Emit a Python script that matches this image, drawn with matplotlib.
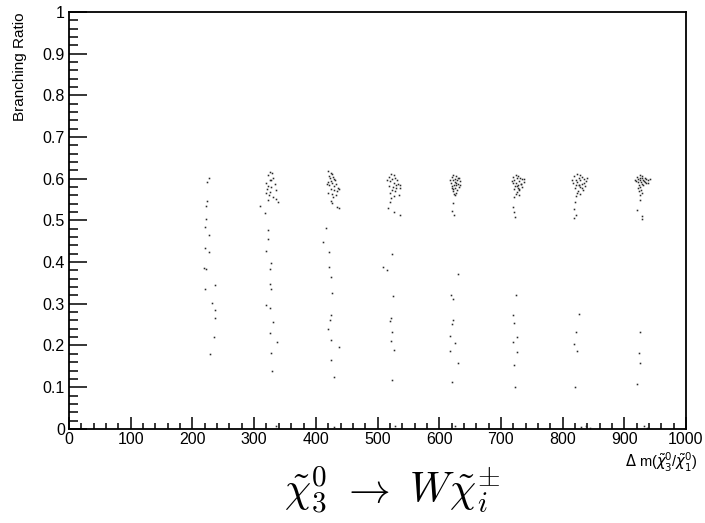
import matplotlib
matplotlib.use("Agg")
import matplotlib.pyplot as plt
from matplotlib.ticker import MultipleLocator, FuncFormatter

plt.rcParams["font.family"] = ["Liberation Sans", "DejaVu Sans"]

# -------------------------------------------------
# Data, one column per mass splitting
# -------------------------------------------------

x_225 = [226, 223, 223, 222, 222, 221, 226, 220, 227, 219, 222, 237, 221, 232, 236, 237, 235, 229]
y_225 = [0.601, 0.593, 0.547, 0.535, 0.503, 0.485, 0.464, 0.433, 0.424, 0.385, 0.384, 0.345,
         0.336, 0.301, 0.284, 0.265, 0.221, 0.180]

x_325 = [326, 329, 322, 331, 325, 327, 319, 333, 323, 328, 321, 335, 326, 320, 324, 330, 336, 322, 338,
         310, 318, 322, 323, 320, 327, 326, 326, 328, 319, 325, 330, 326, 337, 327, 329, 335]
y_325 = [0.616, 0.614, 0.608, 0.603, 0.598, 0.596, 0.590, 0.587, 0.583, 0.580, 0.576, 0.572, 0.568,
         0.565, 0.560, 0.556, 0.552, 0.548, 0.545,
         0.535, 0.519, 0.478, 0.456, 0.426, 0.397, 0.384, 0.348, 0.335, 0.297, 0.289, 0.257, 0.229,
         0.209, 0.183, 0.139, 0.008]

x_425 = [420, 424, 426, 421, 428, 423, 431, 425, 419, 427, 433, 422, 429, 436, 424, 430, 434, 420, 426,
         432, 428, 437, 418, 430,
         425, 427, 435, 438, 417, 412, 421, 422, 424, 426, 424, 423, 420, 425, 438, 424, 429, 430]
y_425 = [0.619, 0.615, 0.611, 0.607, 0.604, 0.601, 0.598, 0.595, 0.593, 0.590, 0.587, 0.585, 0.582,
         0.579, 0.576, 0.573, 0.570, 0.567, 0.563, 0.560, 0.557, 0.575, 0.588, 0.600,
         0.547, 0.543, 0.532, 0.531, 0.482, 0.448, 0.424, 0.388, 0.365, 0.327, 0.272, 0.261, 0.239,
         0.212, 0.196, 0.165, 0.124, 0.005]

x_525 = [522, 526, 519, 529, 524, 531, 521, 527, 533, 536, 518, 525, 530, 523, 528, 520, 534, 526, 522,
         516, 536, 530,
         520, 517, 536, 527, 509, 515, 524, 525, 522, 520, 523, 522, 527, 523, 528]
y_525 = [0.612, 0.608, 0.605, 0.602, 0.600, 0.597, 0.594, 0.591, 0.588, 0.585, 0.583, 0.580, 0.577,
         0.574, 0.570, 0.566, 0.562, 0.558, 0.554, 0.596, 0.578, 0.586,
         0.545, 0.530, 0.513, 0.520, 0.388, 0.382, 0.420, 0.318, 0.265, 0.258, 0.232, 0.210, 0.190,
         0.117, 0.008]

x_625 = [623, 627, 620, 631, 625, 629, 622, 634, 626, 619, 630, 624, 628, 621, 632, 626, 623, 629, 622,
         627, 624, 626, 632, 618, 628, 633, 620,
         622, 620, 624, 630, 619, 622, 623, 621, 618, 626, 618, 631, 621, 625]
y_625 = [0.609, 0.606, 0.604, 0.602, 0.600, 0.598, 0.596, 0.594, 0.592, 0.590, 0.588, 0.586, 0.584,
         0.582, 0.580, 0.578, 0.576, 0.573, 0.570, 0.567, 0.564, 0.561, 0.603, 0.597, 0.591, 0.585,
         0.579,
         0.541, 0.523, 0.513, 0.371, 0.320, 0.311, 0.260, 0.252, 0.223, 0.205, 0.187, 0.157, 0.113,
         0.008]

x_725 = [724, 728, 720, 731, 726, 734, 722, 729, 737, 725, 719, 732, 727, 723, 735, 728, 721, 730, 726,
         724, 729, 722, 738, 718, 733, 726, 730,
         719, 722, 723, 725, 719, 721, 726, 719, 726, 722, 723]
y_725 = [0.610, 0.607, 0.605, 0.603, 0.601, 0.599, 0.597, 0.595, 0.593, 0.591, 0.589, 0.587, 0.585,
         0.583, 0.581, 0.578, 0.575, 0.572, 0.568, 0.564, 0.560, 0.557, 0.600, 0.594, 0.588, 0.582,
         0.576,
         0.533, 0.521, 0.508, 0.320, 0.274, 0.254, 0.221, 0.208, 0.185, 0.153, 0.101]

x_825 = [823, 828, 819, 832, 826, 835, 821, 829, 838, 824, 817, 831, 827, 822, 836, 829, 820, 833, 825,
         823, 828, 821, 840, 816, 834, 827, 831,
         820, 818, 822, 819, 826, 821, 819, 823, 820, 830, 838, 845]
y_825 = [0.611, 0.608, 0.606, 0.604, 0.602, 0.600, 0.598, 0.596, 0.594, 0.592, 0.590, 0.588, 0.586,
         0.584, 0.582, 0.580, 0.577, 0.574, 0.571, 0.567, 0.563, 0.559, 0.603, 0.597, 0.591, 0.585,
         0.579,
         0.545, 0.527, 0.512, 0.505, 0.275, 0.232, 0.203, 0.186, 0.101, 0.004, 0.006, 0.003]

x_925 = [925, 928, 921, 933, 926, 936, 923, 930, 939, 925, 919, 932, 927, 922, 935, 929, 924, 931, 926,
         922, 927, 924, 929, 925, 941, 917, 934, 929, 938,
         925, 921, 928, 928, 925, 924, 926, 920, 932, 937]
y_925 = [0.608, 0.606, 0.604, 0.602, 0.601, 0.600, 0.599, 0.598, 0.597, 0.596, 0.595, 0.594, 0.593,
         0.592, 0.590, 0.588, 0.586, 0.584, 0.581, 0.578, 0.574, 0.570, 0.566, 0.562, 0.600, 0.596,
         0.592, 0.603, 0.589,
         0.549, 0.525, 0.511, 0.503, 0.232, 0.181, 0.159, 0.107, 0.006, 0.003]

columns = [(x_225, y_225), (x_325, y_325), (x_425, y_425), (x_525, y_525),
           (x_625, y_625), (x_725, y_725), (x_825, y_825), (x_925, y_925)]

# -------------------------------------------------
# Plot
# -------------------------------------------------

fig = plt.figure(figsize=(7.05, 5.23), dpi=100)
ax = fig.add_axes([0.098, 0.180, 0.875, 0.797])

for xs, ys in columns:
    ax.plot(xs, ys, linestyle="none", marker="s", markersize=1.15,
            markeredgewidth=0, color="#2a2a2a")

ax.set_xlim(0, 1000)
ax.set_ylim(0, 1)

for side in ["left", "bottom", "top", "right"]:
    ax.spines[side].set_linewidth(1.3)
    ax.spines[side].set_color("black")

ax.xaxis.set_major_locator(MultipleLocator(100))
ax.xaxis.set_minor_locator(MultipleLocator(20))
ax.yaxis.set_major_locator(MultipleLocator(0.1))
ax.yaxis.set_minor_locator(MultipleLocator(0.02))
ax.yaxis.set_major_formatter(FuncFormatter(lambda v, p: "%g" % round(v, 2)))

ax.tick_params(axis="x", which="major", direction="in", length=9, width=1.1,
               labelsize=11.5, pad=2)
ax.tick_params(axis="x", which="minor", direction="in", length=4.5, width=1.1)
ax.tick_params(axis="y", which="major", direction="in", length=13, width=1.1,
               labelsize=11.5, pad=3)
ax.tick_params(axis="y", which="minor", direction="in", length=6.5, width=1.1)

ax.set_ylabel("Branching Ratio", fontsize=11, loc="top", labelpad=11)

fig.text(0.99, 0.115, r"$\Delta$ m($\tilde{\chi}^{0}_{3}$/$\tilde{\chi}^{0}_{1}$)",
         ha="right", va="center", fontsize=10.5, math_fontfamily="dejavusans")

fig.text(0.556, 0.063, r"$\tilde{\chi}_3^0\ \rightarrow\ W\tilde{\chi}_i^{\pm}$",
         ha="center", va="center", fontsize=30, math_fontfamily="cm")

fig.savefig("out.png", dpi=100)
